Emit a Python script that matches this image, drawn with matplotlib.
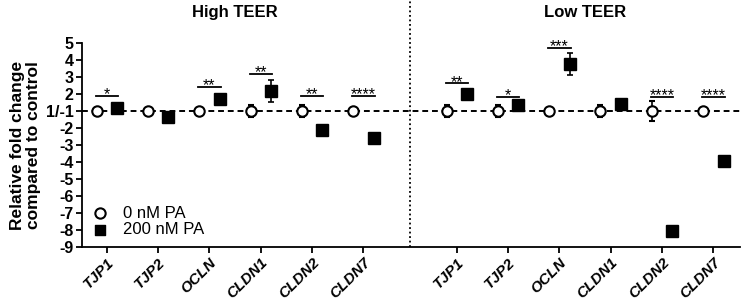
import numpy as np
import matplotlib
matplotlib.use("Agg")
import matplotlib.pyplot as plt
from matplotlib.ticker import NullLocator

plt.rcParams['font.family'] = ['Liberation Sans', 'DejaVu Sans']

genes = ["TJP1", "TJP2", "OCLN", "CLDN1", "CLDN2", "CLDN7"]
groups = ["High TEER", "Low TEER"]

# fold change vs control (control = 1)
ctrl_high = [1, 1, 1, 1, 1, 1]
ctrl_high_err = [0.1, 0.2, 0.2, 0.35, 0.35, 0.2]
pa_high = [1.2, -1.35, 1.75, 2.2, -2.1, -2.6]
pa_high_err = [0.1, 0.1, 0.2, 0.67, 0.1, 0.1]

ctrl_low = [1, 1, 1, 1, 1, 1]
ctrl_low_err = [0.35, 0.35, 0.2, 0.35, 0.6, 0.2]
pa_low = [2.05, 1.35, 3.8, 1.45, -8.05, -3.95]
pa_low_err = [0.1, 0.1, 0.64, 0.25, 0.1, 0.1]

stars_high = ["*", "", "**", "**", "**", "****"]
stars_high_y = [1.9, 0, 2.45, 3.2, 1.9, 1.9]
stars_low = ["**", "*", "***", "", "****", "****"]
stars_low_y = [2.65, 1.85, 4.75, 0, 1.85, 1.85]

ytick_vals = [5, 4, 3, 2, 1, -2, -3, -4, -5, -6, -7, -8, -9]
ytick_labels = ["5", "4", "3", "2", "1/-1", "-2", "-3", "-4", "-5", "-6", "-7", "-8", "-9"]


# 1 and -1 share the same position on the axis
def fwd(v):
    v = np.asarray(v, dtype=float)
    return np.where(v >= 0, v - 1, v + 1)


def inv(p):
    p = np.asarray(p, dtype=float)
    return np.where(p >= 0, p + 1, p - 1)


fig = plt.figure(figsize=(7.43, 3.04), dpi=100)
ax = fig.add_axes([0.110, 0.1875, 0.886, 0.6695])
ax.set_yscale('function', functions=(fwd, inv))

x_high = np.arange(len(genes))
x_low = np.arange(len(genes)) + 6.82
off = 0.2

ax.axhline(1, color='black', lw=1.4, ls=(0, (3, 2)), zorder=1)

for xs, ctrl, cerr, pa, perr, stars, sy in [
        (x_high, ctrl_high, ctrl_high_err, pa_high, pa_high_err, stars_high, stars_high_y),
        (x_low, ctrl_low, ctrl_low_err, pa_low, pa_low_err, stars_low, stars_low_y)]:
    ax.errorbar(xs - off, ctrl, yerr=cerr, fmt='o', ms=7.5, mfc='white', mec='black',
                mew=1.5, ecolor='black', elinewidth=1.2, capsize=2.5, capthick=1.2, zorder=3)
    ax.errorbar(xs + off, pa, yerr=perr, fmt='s', ms=8.5, mfc='black', mec='black',
                ecolor='black', elinewidth=1.2, capsize=2.5, capthick=1.2, zorder=3)
    for x, s, h in zip(xs, stars, sy):
        if not s:
            continue
        ax.plot([x - off - 0.02, x + off + 0.02], [h, h], color='black', lw=1.3)
        ax.annotate(s, (x, h), xytext=(0, -2.5), textcoords='offset points',
                    ha='center', va='baseline', fontsize=11.5)

# divider between panels
ax.plot([5.91, 5.91], [0, 1.21], color='black', lw=1.3, ls=(0, (1, 1.5)),
        transform=ax.get_xaxis_transform(), clip_on=False)

ax.set_xlim(-0.49, 12.34)
ax.set_ylim(-9, 5)
ax.set_yticks(ytick_vals)
ax.set_yticklabels(ytick_labels, fontsize=11.5, fontweight='bold')
ax.yaxis.set_minor_locator(NullLocator())
ax.set_xticks(np.concatenate([x_high, x_low]))
ax.set_xticklabels(genes + genes, rotation=45, ha='right', rotation_mode='anchor',
                   fontsize=11, fontweight='bold', fontstyle='italic')
ax.tick_params(axis='both', direction='out', length=4, width=1.3, pad=2)
ax.spines['top'].set_visible(False)
ax.spines['right'].set_visible(False)
ax.spines['left'].set_linewidth(1.3)
ax.spines['bottom'].set_linewidth(1.3)
ax.set_ylabel("Relative fold change\ncompared to control", fontsize=12.5,
              fontweight='bold', labelpad=3, linespacing=1.1)

ax.text(x_high.mean(), 1.15, groups[0], transform=ax.get_xaxis_transform(),
        ha='center', va='center', fontsize=12, fontweight='bold')
ax.text(x_low.mean(), 1.15, groups[1], transform=ax.get_xaxis_transform(),
        ha='center', va='center', fontsize=12, fontweight='bold')

h1 = ax.scatter([], [], marker='o', s=55, facecolors='white', edgecolors='black', linewidths=1.5)
h2 = ax.scatter([], [], marker='s', s=60, color='black')
ax.legend([h1, h2], ["0 nM PA", "200 nM PA"], loc='lower left', bbox_to_anchor=(-0.016, -0.01),
          frameon=False, fontsize=12, handletextpad=0.4, labelspacing=0.1, borderaxespad=0.3)

fig.savefig("out.png", dpi=100)
